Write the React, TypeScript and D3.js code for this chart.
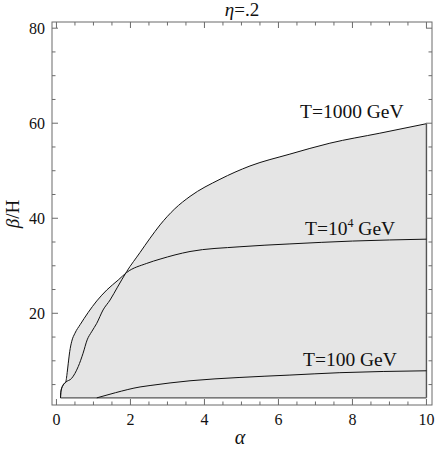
import React from "react";
import * as d3 from "d3";

const t1000Alpha = [0.11,0.12,0.18,0.25,0.41,0.59,0.72,0.83,0.95,1.09,1.26,1.45,1.65,1.9,2.26,2.53,2.8,3.2,3.61,4.42,5.23,6.31,7.39,8.74,10];
const t1000Beta = [2.2,3.5,4.9,5.5,6.3,8.8,11.6,14.4,16.1,17.9,20.7,22.8,25.5,28.8,32.8,35.8,38.6,42.0,44.6,48.2,51.0,53.5,55.8,57.9,59.9];

const t1e4Alpha = [0.11,0.12,0.18,0.25,0.29,0.32,0.36,0.41,0.5,0.64,0.86,1.09,1.36,1.67,1.9,2.44,2.8,3.61,4.96,6.31,8.0,10];
const t1e4Beta = [2.2,3.5,4.9,5.5,7.5,9.5,12.0,14.0,15.8,17.6,20.2,22.6,24.9,27,28.6,30.5,31.4,33.0,34.0,34.6,35.2,35.6];

const t100Alpha = [1.09,1.6,2.26,2.53,3.61,4.96,6.31,7.66,10];
const t100Beta = [2.2,3.3,4.5,4.8,5.8,6.5,7.0,7.5,7.9];

const floorBeta = 2.2;
const crossAlpha = 1.9;

const xMajor = [0, 2, 4, 6, 8, 10];
const yMajor = [20, 40, 60, 80];

const W = 436, H = 458;
const L = 52, R = 432, T = 22, B = 405;

export default function App() {
  const x = d3.scaleLinear().domain([-0.12, 10.15]).range([L, R]);
  const y = d3.scaleLinear().domain([0.7, 81.3]).range([B, T]);

  const pts = (a: number[], b: number[]) => a.map((v, i) => [v, b[i]] as [number, number]);
  const s1000 = pts(t1000Alpha, t1000Beta);
  const s1e4 = pts(t1e4Alpha, t1e4Beta);
  const s100 = pts(t100Alpha, t100Beta);

  const curve = d3.curveMonotoneX;
  const line = d3
    .line<[number, number]>()
    .x((d) => x(d[0]))
    .y((d) => y(d[1]))
    .curve(curve);

  const upper = [
    ...s1e4.filter((d) => d[0] <= crossAlpha),
    ...s1000.filter((d) => d[0] > crossAlpha),
  ];
  const area = d3
    .area<[number, number]>()
    .x((d) => x(d[0]))
    .y0(y(floorBeta))
    .y1((d) => y(d[1]))
    .curve(curve);

  const xMinor = d3.range(0, 10.01, 0.5).filter((v) => !xMajor.includes(v));
  const yMinor = d3.range(5, 81, 5).filter((v) => !yMajor.includes(v));

  const frameColor = "#6b6b6b";
  const font = "Liberation Serif, Times New Roman, serif";
  const maj = 6, mnr = 3.5;

  return (
    <svg width={W} height={H} style={{ position: "absolute", left: 0, top: 0, fontFamily: font }}>
      <rect x={0} y={0} width={W} height={H} fill="#fff" />
      <path d={area(upper) || ""} fill="#e5e5e5" stroke="none" />
      <line x1={x(upper[0][0])} x2={x(10)} y1={y(floorBeta)} y2={y(floorBeta)} stroke="#555" strokeWidth={1.4} />
      <line x1={x(10)} x2={x(10)} y1={y(floorBeta)} y2={y(t1000Beta[t1000Beta.length - 1])} stroke="#555" strokeWidth={1.4} />
      <path d={line(s1000) || ""} fill="none" stroke="#111" strokeWidth={1} />
      <path d={line(s1e4) || ""} fill="none" stroke="#111" strokeWidth={1} />
      <path d={line(s100) || ""} fill="none" stroke="#111" strokeWidth={1} />

      <rect x={L} y={T} width={R - L} height={B - T} fill="none" stroke={frameColor} strokeWidth={1} />
      {xMajor.map((v) => (
        <g key={"xm" + v}>
          <line x1={x(v)} x2={x(v)} y1={B} y2={B - maj} stroke={frameColor} />
          <line x1={x(v)} x2={x(v)} y1={T} y2={T + maj} stroke={frameColor} />
          <text x={x(v)} y={425} textAnchor="middle" fontSize={16} fill="#111" style={{ fontFamily: font }}>{v}</text>
        </g>
      ))}
      {xMinor.map((v) => (
        <g key={"xn" + v}>
          <line x1={x(v)} x2={x(v)} y1={B} y2={B - mnr} stroke={frameColor} />
          <line x1={x(v)} x2={x(v)} y1={T} y2={T + mnr} stroke={frameColor} />
        </g>
      ))}
      {yMajor.map((v) => (
        <g key={"ym" + v}>
          <line x1={L} x2={L + maj} y1={y(v)} y2={y(v)} stroke={frameColor} />
          <line x1={R} x2={R - maj} y1={y(v)} y2={y(v)} stroke={frameColor} />
          <text x={45} y={y(v) + 5.5} textAnchor="end" fontSize={16} fill="#111" style={{ fontFamily: font }}>{v}</text>
        </g>
      ))}
      {yMinor.map((v) => (
        <g key={"yn" + v}>
          <line x1={L} x2={L + mnr} y1={y(v)} y2={y(v)} stroke={frameColor} />
          <line x1={R} x2={R - mnr} y1={y(v)} y2={y(v)} stroke={frameColor} />
        </g>
      ))}

      <text x={242} y={16} textAnchor="middle" fontSize={19} fill="#111" style={{ fontFamily: font }}>
        <tspan fontStyle="italic">η</tspan>=.2
      </text>
      <text x={240} y={444} textAnchor="middle" fontSize={20} fontStyle="italic" fill="#111" style={{ fontFamily: font }}>α</text>
      <text transform="translate(19,214) rotate(-90)" textAnchor="middle" fontSize={19} fill="#111" style={{ fontFamily: font }}>
        <tspan fontStyle="italic">β</tspan>/H
      </text>

      <text x={300} y={118} fontSize={19.5} fill="#111" style={{ fontFamily: font }}>T=1000 GeV</text>
      <text x={305} y={235} fontSize={19.5} fill="#111" style={{ fontFamily: font }}>
        T=10<tspan fontSize={12} dy={-8}>4</tspan><tspan dy={8}> GeV</tspan>
      </text>
      <text x={303} y={366} fontSize={19.5} fill="#111" style={{ fontFamily: font }}>T=100 GeV</text>
    </svg>
  );
}
